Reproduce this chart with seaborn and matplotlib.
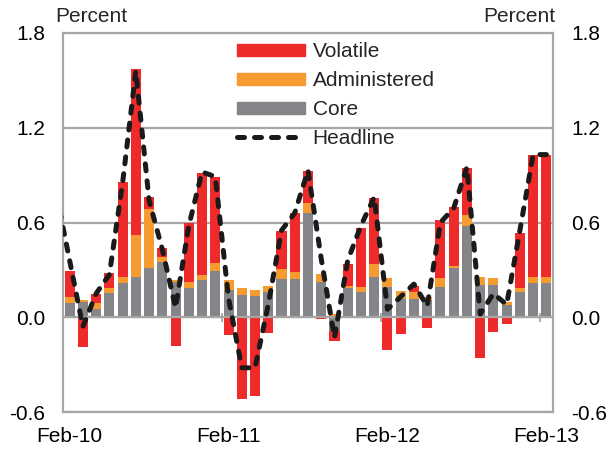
import numpy as np
import pandas as pd
import matplotlib
matplotlib.use("Agg")
import matplotlib.pyplot as plt
from matplotlib.patches import Patch
from matplotlib.lines import Line2D
import seaborn as sns

# Monthly contributions to CPI inflation, Feb-10 .. Feb-13 (percentage points)
months = [f"{m}-{y}" for y in range(10, 14)
          for m in ["Jan", "Feb", "Mar", "Apr", "May", "Jun",
                    "Jul", "Aug", "Sep", "Oct", "Nov", "Dec"]][1:38]

core = [0.09, 0.097, 0.05, 0.156, 0.22, 0.256, 0.315, 0.352, 0.225, 0.183,
        0.236, 0.293, 0.173, 0.141, 0.135, 0.162, 0.242, 0.242, 0.663, 0.225,
        -0.09, 0.183, 0.162, 0.257, 0.194, 0.114, 0.114, 0.11, 0.194, 0.314,
        0.577, 0.204, 0.204, 0.078, 0.162, 0.215, 0.215]
administered = [0.037, 0.015, 0.043, 0.03, 0.036, 0.262, 0.372, 0.031, 0.01, 0.042,
                0.031, 0.052, 0.063, 0.042, 0.038, 0.038, 0.061, 0.042, 0.061, 0.049,
                0.02, 0.017, 0.032, 0.078, 0.052, 0.052, 0.048, 0.016, 0.052, 0.01,
                0.069, 0.053, 0.042, 0.021, 0.025, 0.042, 0.042]
volatile = [0.163, -0.19, 0.053, 0.093, 0.598, 1.055, 0.074, 0.053, -0.185, 0.369,
            0.649, 0.543, -0.112, -0.518, -0.497, -0.097, 0.242, 0.379, 0.2, -0.013,
            -0.063, 0.135, 0.372, 0.421, -0.206, -0.105, 0.038, -0.065, 0.369, 0.375,
            0.301, -0.255, -0.095, -0.044, 0.348, 0.768, 0.768]
# Headline m/m inflation, Jan-10 .. Feb-13
headline = [0.78, 0.36, -0.06, 0.15, 0.27, 0.85, 1.56, 0.74, 0.43, 0.06, 0.58,
            0.92, 0.89, 0.12, -0.32, -0.32, 0.08, 0.55, 0.66, 0.93, 0.37,
            -0.13, 0.36, 0.58, 0.76, 0.05, 0.13, 0.21, 0.07, 0.60, 0.69,
            0.95, 0.02, 0.15, 0.08, 0.55, 1.03, 1.03]

tick_labels = ["Feb-10", "Feb-11", "Feb-12", "Feb-13"]
y_ticks = [-0.6, 0.0, 0.6, 1.2, 1.8]

RED = "#EE2B2A"
ORANGE = "#F59B30"
GRAY = "#848589"
GRID = "#A6A6A6"
FONT = 15

sns.set_theme(style="white")
plt.rcParams["font.family"] = ["Liberation Sans", "DejaVu Sans"]

fig = plt.figure(figsize=(6.07, 4.5), dpi=100)
ax = fig.add_axes([63 / 607, 38 / 450, 490 / 607, 379 / 450])

# positive parts stack upward, negative parts stack downward
pos = np.zeros(len(months))
neg = np.zeros(len(months))
for values, color in [(core, GRAY), (administered, ORANGE), (volatile, RED)]:
    v = np.asarray(values, dtype=float)
    bottom = np.where(v >= 0, pos, neg)
    sns.barplot(x=months, y=v, bottom=bottom, order=months, color=color,
                saturation=1, width=0.76, linewidth=0, ax=ax, zorder=2)
    pos += np.clip(v, 0, None)
    neg += np.clip(v, None, 0)

# zero line with year separators
ax.axhline(0, color=GRID, lw=1.6, zorder=2.5)
ax.vlines([-0.5, 11.5, 23.5, 35.5], -0.03, 0.03, color=GRID, lw=1.3, zorder=2.5)

sns.lineplot(x=np.arange(-1, len(months)), y=headline, ax=ax, color="#1A1A1A",
             lw=3.6, zorder=4)
hl = ax.lines[-1]
hl.set_dashes([1.4, 2.0])
hl.set_dash_capstyle("round")

ax.set_xlim(-0.5, len(months) - 0.5)
ax.set_ylim(-0.6, 1.8)
ax.set_yticks(y_ticks)
ax.set_yticklabels([f"{t:.1f}" for t in y_ticks])
ax.set_xticks([0, 12, 24, 36])
ax.set_xticklabels(tick_labels)
ax.set_xlabel("")
ax.set_ylabel("")
ax.yaxis.grid(True, color=GRID, lw=1.6)
ax.set_axisbelow(True)
ax.tick_params(axis="both", length=0, labelsize=FONT, colors="black")
ax.tick_params(axis="y", pad=13, labelright=True)
ax.tick_params(axis="x", pad=11)
for s in ax.spines.values():
    s.set_color(GRID)
    s.set_linewidth(1.6)

fig.text(55 / 607, 1 - 16 / 450, "Percent", ha="left", va="center", fontsize=FONT)
fig.text(555 / 607, 1 - 16 / 450, "Percent", ha="right", va="center", fontsize=FONT)

handles = [Patch(color=RED), Patch(color=ORANGE), Patch(color=GRAY),
           Line2D([], [], color="#1A1A1A", lw=3.6, dashes=[1.4, 2.0],
                  dash_capstyle="round")]
ax.legend(handles, ["Volatile", "Administered", "Core", "Headline"],
          loc="upper left", bbox_to_anchor=(237 / 607, 1 - 42 / 450),
          bbox_transform=fig.transFigure, frameon=False, fontsize=FONT,
          handlelength=3.26, handleheight=0.5, handletextpad=0.37,
          labelspacing=0.48, borderpad=0, borderaxespad=0)

fig.savefig("out.png", dpi=100)
